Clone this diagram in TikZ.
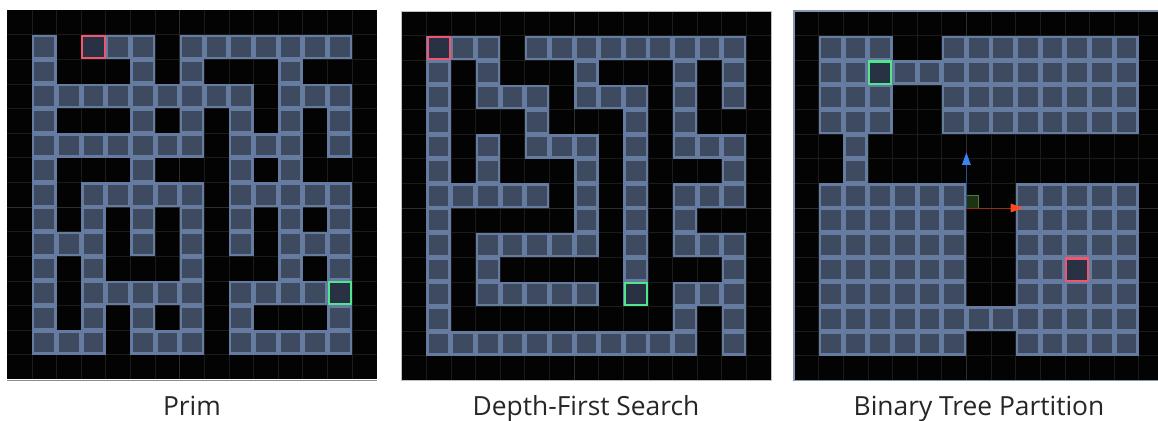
\documentclass[tikz,border=0pt]{standalone}
\usepackage{fontspec}
\setmainfont{Open Sans}
\usepackage{xcolor}
\definecolor{mazeBg}{HTML}{030303}
\definecolor{gridLine}{HTML}{1B1B1B}
\definecolor{axisLine}{HTML}{2E2E2E}
\definecolor{cellEdge}{HTML}{667BA0}
\definecolor{cellFace}{HTML}{3E4A5F}
\definecolor{markFace}{HTML}{293244}
\definecolor{startRed}{HTML}{F0566E}
\definecolor{goalGreen}{HTML}{4FE68C}
\definecolor{gizmoGreen}{HTML}{1C3410}
\definecolor{gizmoEdge}{HTML}{56783A}
\definecolor{axisBlue}{HTML}{3C82F0}
\definecolor{axisRed}{HTML}{FF4A1E}
\usepackage{tikz}
\usetikzlibrary{arrows.meta}

% one panel: black board, faint grid, walkable cells
\newcommand{\mazeboard}[1]{%
  \fill[mazeBg] (0,0) rectangle (15,15);
  \foreach \i in {1,...,14}{
    \draw[gridLine] (\i,0) -- (\i,15);
    \draw[gridLine] (0,\i) -- (15,\i);
  }
  \draw[axisLine] (7,0) -- (7,15);
  \draw[axisLine] (0,8) -- (15,8);
  \foreach \r/\cs in {#1}{
    \foreach \c in \cs{
      \fill[cellEdge] (\c,\r) rectangle ++(1,1);
      \fill[cellFace] (\c+0.1,\r+0.1) rectangle (\c+0.9,\r+0.9);
    }
  }
}
\newcommand{\mazemark}[3]{%
  \draw[#1, line width=1.2pt, fill=markFace] (#2+0.05,#3+0.05) rectangle (#2+0.95,#3+0.95);
}

\begin{document}
\begin{tikzpicture}[
  x=0.02cm, y=-0.02cm,
  caption/.style={anchor=base, font=\fontsize{15}{18}\selectfont, text=black!85},
  panel/.style={x=0.4926cm, y=-0.4926cm, line width=0.4pt}
]
  \useasboundingbox (0,0) rectangle (1158,421);
  \fill[white] (0,0) rectangle (1158,421);
  \clip (0,0) rectangle (1158,421);

  % Prim
  \begin{scope}[shift={(7.3,10)}, panel]
    \mazeboard{1/{1,3,4,5,7,8,9,10,11,12,13}, 2/{1,5,7,11},
      3/{1,2,3,4,5,6,7,8,9,11,12,13}, 4/{1,5,7,9,11,13},
      5/{1,2,3,4,5,6,7,9,10,11,13}, 6/{1,5,9,11},
      7/{1,3,4,5,6,7,9,10,11,12,13}, 8/{1,3,5,7,9,11,13},
      9/{1,2,3,5,7,9,11,12,13}, 10/{1,3,7,11,13},
      11/{1,3,4,5,6,7,9,10,11,12,13}, 12/{1,3,5,7,9,13},
      13/{1,2,3,5,6,7,9,10,11,12,13}}
    \mazemark{startRed}{3}{1}
    \mazemark{goalGreen}{13}{11}
    \draw[black!45, line width=0.8pt] (0,15.05) -- (15,15.05);
  \end{scope}

  % Depth-first search
  \begin{scope}[shift={(401.7,11)}, panel]
    \mazeboard{1/{1,2,3,5,6,7,8,9,10,11,12,13}, 2/{1,3,7,11,13},
      3/{1,3,4,5,7,8,9,11,13}, 4/{1,5,9,11},
      5/{1,3,5,6,7,9,11,12,13}, 6/{1,3,7,9,13},
      7/{1,2,3,4,5,7,9,11,12,13}, 8/{1,7,9,11},
      9/{1,3,4,5,6,7,9,11,12,13}, 10/{1,3,9,13},
      11/{1,3,4,5,6,7,9,11,12,13}, 12/{1,11,13},
      13/{1,2,3,4,5,6,7,8,9,10,11,13}}
    \mazemark{startRed}{1}{1}
    \mazemark{goalGreen}{9}{11}
    \draw[black!25] (0,0) rectangle (15,15);
  \end{scope}

  % Binary tree partition
  \begin{scope}[shift={(794,11)}, panel]
    \mazeboard{1/{1,2,3,6,7,...,13}, 2/{1,...,13}, 3/{1,2,3,6,7,...,13},
      4/{1,2,3,6,7,...,13}, 5/{2}, 6/{2},
      7/{1,...,6,9,10,11,12,13}, 8/{1,...,6,9,10,11,12,13},
      9/{1,...,6,9,10,11,12,13}, 10/{1,...,6,9,10,11,12,13},
      11/{1,...,6,9,10,11,12,13}, 12/{1,...,13},
      13/{1,...,6,9,10,11,12,13}}
    \mazemark{startRed}{11}{10}
    \mazemark{goalGreen}{3}{2}
    \coordinate (org) at (7,8);
    \coordinate (upTip) at (7,5.75);
    \coordinate (rightTip) at (9.3,8);
    \fill[gizmoGreen, draw=gizmoEdge] (org) rectangle (7.5,7.5);
    \draw[axisBlue!60!black, -{Triangle[length=7pt, width=5pt, color=axisBlue]}] (org) -- (upTip);
    \draw[axisRed!60!black, -{Triangle[length=7pt, width=5pt, color=axisRed]}] (org) -- (rightTip);
    \draw[cellEdge!80!white, line width=0.8pt] (0,0) rectangle (15,15);
  \end{scope}

  \node[caption] (primLbl) at (192,416) {Prim};
  \node[caption] (dfsLbl) at (586,416) {Depth-First Search};
  \node[caption] (btpLbl) at (979,416) {Binary Tree Partition};
\end{tikzpicture}
\end{document}
